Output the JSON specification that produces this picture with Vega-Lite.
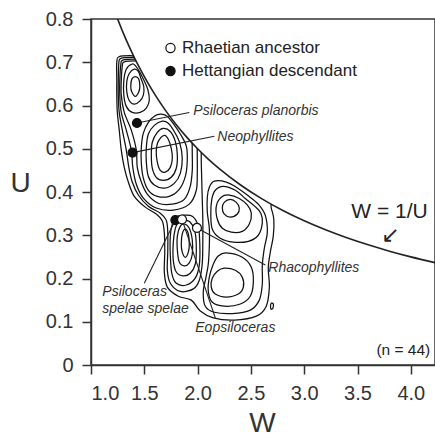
{
"$schema":"https://vega.github.io/schema/vega-lite/v6.json",
"width":344,"height":346,
"autosize":{"type":"none"},
"padding":{"left":91,"top":19,"right":0,"bottom":71},
"background":"white",
"config":{
 "view":{"stroke":"#333","strokeWidth":1.5},
 "font":"Liberation Sans",
 "axis":{"domainColor":"#333","domainWidth":1.5,"tickColor":"#333","tickWidth":1.5,"tickSize":9,"labelFont":"Liberation Sans","labelFontSize":20,"labelColor":"#333","labelPadding":9,"titleFont":"Liberation Sans","titleFontSize":28,"titleFontWeight":"normal","titleColor":"#333","grid":false}
},
"datasets":{
 "curve":[
  {"W":1.25,"U":0.8},{"W":1.3,"U":0.7692},{"W":1.35,"U":0.7407},{"W":1.4,"U":0.7143},{"W":1.45,"U":0.6897},{"W":1.5,"U":0.6667},{"W":1.6,"U":0.625},{"W":1.7,"U":0.5882},{"W":1.8,"U":0.5556},{"W":1.9,"U":0.5263},{"W":2.0,"U":0.5},{"W":2.1,"U":0.4762},{"W":2.2,"U":0.4545},{"W":2.4,"U":0.4167},{"W":2.6,"U":0.3846},{"W":2.8,"U":0.3571},{"W":3.0,"U":0.3333},{"W":3.2,"U":0.3125},{"W":3.4,"U":0.2941},{"W":3.6,"U":0.2778},{"W":3.8,"U":0.2632},{"W":4.0,"U":0.25},{"W":4.227,"U":0.2366}
 ],
 "closed":[
  {"c":"T1","o":0,"W":1.416,"U":0.667},{"c":"T1","o":1,"W":1.448,"U":0.661},{"c":"T1","o":2,"W":1.458,"U":0.644},{"c":"T1","o":3,"W":1.448,"U":0.631},{"c":"T1","o":4,"W":1.416,"U":0.621},{"c":"T1","o":5,"W":1.383,"U":0.631},{"c":"T1","o":6,"W":1.373,"U":0.644},{"c":"T1","o":7,"W":1.383,"U":0.661},
  {"c":"T2","o":0,"W":1.406,"U":0.684},{"c":"T2","o":1,"W":1.444,"U":0.679},{"c":"T2","o":2,"W":1.468,"U":0.663},{"c":"T2","o":3,"W":1.495,"U":0.644},{"c":"T2","o":4,"W":1.491,"U":0.624},{"c":"T2","o":5,"W":1.458,"U":0.610},{"c":"T2","o":6,"W":1.406,"U":0.603},{"c":"T2","o":7,"W":1.359,"U":0.611},{"c":"T2","o":8,"W":1.336,"U":0.631},{"c":"T2","o":9,"W":1.336,"U":0.656},{"c":"T2","o":10,"W":1.359,"U":0.674},
  {"c":"T3","o":0,"W":1.387,"U":0.696},{"c":"T3","o":1,"W":1.420,"U":0.691},{"c":"T3","o":2,"W":1.458,"U":0.677},{"c":"T3","o":3,"W":1.495,"U":0.659},{"c":"T3","o":4,"W":1.533,"U":0.637},{"c":"T3","o":5,"W":1.547,"U":0.612},{"c":"T3","o":6,"W":1.519,"U":0.594},{"c":"T3","o":7,"W":1.462,"U":0.584},{"c":"T3","o":8,"W":1.387,"U":0.584},{"c":"T3","o":9,"W":1.331,"U":0.598},{"c":"T3","o":10,"W":1.308,"U":0.624},{"c":"T3","o":11,"W":1.308,"U":0.658},{"c":"T3","o":12,"W":1.331,"U":0.684},
  {"c":"M1","o":0,"W":1.688,"U":0.531},{"c":"M1","o":1,"W":1.725,"U":0.522},{"c":"M1","o":2,"W":1.753,"U":0.501},{"c":"M1","o":3,"W":1.763,"U":0.478},{"c":"M1","o":4,"W":1.744,"U":0.457},{"c":"M1","o":5,"W":1.697,"U":0.446},{"c":"M1","o":6,"W":1.650,"U":0.450},{"c":"M1","o":7,"W":1.622,"U":0.469},{"c":"M1","o":8,"W":1.612,"U":0.494},{"c":"M1","o":9,"W":1.631,"U":0.517},
  {"c":"M2","o":0,"W":1.678,"U":0.547},{"c":"M2","o":1,"W":1.744,"U":0.540},{"c":"M2","o":2,"W":1.791,"U":0.517},{"c":"M2","o":3,"W":1.810,"U":0.485},{"c":"M2","o":4,"W":1.800,"U":0.455},{"c":"M2","o":5,"W":1.753,"U":0.434},{"c":"M2","o":6,"W":1.678,"U":0.427},{"c":"M2","o":7,"W":1.612,"U":0.434},{"c":"M2","o":8,"W":1.575,"U":0.455},{"c":"M2","o":9,"W":1.566,"U":0.485},{"c":"M2","o":10,"W":1.575,"U":0.515},{"c":"M2","o":11,"W":1.622,"U":0.538},
  {"c":"M3","o":0,"W":1.669,"U":0.564},{"c":"M3","o":1,"W":1.725,"U":0.559},{"c":"M3","o":2,"W":1.781,"U":0.540},{"c":"M3","o":3,"W":1.833,"U":0.513},{"c":"M3","o":4,"W":1.856,"U":0.478},{"c":"M3","o":5,"W":1.838,"U":0.443},{"c":"M3","o":6,"W":1.781,"U":0.420},{"c":"M3","o":7,"W":1.688,"U":0.409},{"c":"M3","o":8,"W":1.594,"U":0.416},{"c":"M3","o":9,"W":1.538,"U":0.436},{"c":"M3","o":10,"W":1.519,"U":0.469},{"c":"M3","o":11,"W":1.519,"U":0.503},{"c":"M3","o":12,"W":1.538,"U":0.534},{"c":"M3","o":13,"W":1.594,"U":0.554},
  {"c":"M4","o":0,"W":1.650,"U":0.580},{"c":"M4","o":1,"W":1.711,"U":0.576},{"c":"M4","o":2,"W":1.772,"U":0.558},{"c":"M4","o":3,"W":1.838,"U":0.534},{"c":"M4","o":4,"W":1.894,"U":0.506},{"c":"M4","o":5,"W":1.903,"U":0.473},{"c":"M4","o":6,"W":1.885,"U":0.436},{"c":"M4","o":7,"W":1.828,"U":0.406},{"c":"M4","o":8,"W":1.734,"U":0.390},{"c":"M4","o":9,"W":1.622,"U":0.390},{"c":"M4","o":10,"W":1.538,"U":0.404},{"c":"M4","o":11,"W":1.491,"U":0.432},{"c":"M4","o":12,"W":1.472,"U":0.467},{"c":"M4","o":13,"W":1.472,"U":0.503},{"c":"M4","o":14,"W":1.491,"U":0.536},{"c":"M4","o":15,"W":1.538,"U":0.561},{"c":"M4","o":16,"W":1.594,"U":0.575},
  {"c":"L1","o":0,"W":1.885,"U":0.314},{"c":"L1","o":1,"W":1.913,"U":0.303},{"c":"L1","o":2,"W":1.922,"U":0.279},{"c":"L1","o":3,"W":1.913,"U":0.261},{"c":"L1","o":4,"W":1.885,"U":0.249},{"c":"L1","o":5,"W":1.856,"U":0.261},{"c":"L1","o":6,"W":1.847,"U":0.279},{"c":"L1","o":7,"W":1.856,"U":0.303},
  {"c":"L2","o":0,"W":1.875,"U":0.326},{"c":"L2","o":1,"W":1.922,"U":0.316},{"c":"L2","o":2,"W":1.950,"U":0.289},{"c":"L2","o":3,"W":1.950,"U":0.256},{"c":"L2","o":4,"W":1.922,"U":0.236},{"c":"L2","o":5,"W":1.875,"U":0.229},{"c":"L2","o":6,"W":1.828,"U":0.238},{"c":"L2","o":7,"W":1.810,"U":0.266},{"c":"L2","o":8,"W":1.810,"U":0.298},{"c":"L2","o":9,"W":1.838,"U":0.321},
  {"c":"L3","o":0,"W":1.866,"U":0.335},{"c":"L3","o":1,"W":1.931,"U":0.330},{"c":"L3","o":2,"W":1.978,"U":0.305},{"c":"L3","o":3,"W":1.988,"U":0.266},{"c":"L3","o":4,"W":1.978,"U":0.233},{"c":"L3","o":5,"W":1.931,"U":0.212},{"c":"L3","o":6,"W":1.866,"U":0.206},{"c":"L3","o":7,"W":1.800,"U":0.215},{"c":"L3","o":8,"W":1.772,"U":0.242},{"c":"L3","o":9,"W":1.772,"U":0.284},{"c":"L3","o":10,"W":1.791,"U":0.316},{"c":"L3","o":11,"W":1.819,"U":0.330},
  {"c":"L4","o":0,"W":1.856,"U":0.346},{"c":"L4","o":1,"W":1.950,"U":0.344},{"c":"L4","o":2,"W":2.006,"U":0.321},{"c":"L4","o":3,"W":2.021,"U":0.277},{"c":"L4","o":4,"W":2.016,"U":0.231},{"c":"L4","o":5,"W":1.978,"U":0.201},{"c":"L4","o":6,"W":1.894,"U":0.185},{"c":"L4","o":7,"W":1.800,"U":0.189},{"c":"L4","o":8,"W":1.758,"U":0.212},{"c":"L4","o":9,"W":1.744,"U":0.254},{"c":"L4","o":10,"W":1.744,"U":0.298},{"c":"L4","o":11,"W":1.763,"U":0.326},{"c":"L4","o":12,"W":1.800,"U":0.342},
  {"c":"R1","o":0,"W":2.307,"U":0.383},{"c":"R1","o":1,"W":2.363,"U":0.376},{"c":"R1","o":2,"W":2.391,"U":0.363},{"c":"R1","o":3,"W":2.373,"U":0.349},{"c":"R1","o":4,"W":2.307,"U":0.342},{"c":"R1","o":5,"W":2.250,"U":0.349},{"c":"R1","o":6,"W":2.232,"U":0.363},{"c":"R1","o":7,"W":2.250,"U":0.376},
  {"c":"R2","o":0,"W":2.297,"U":0.393},{"c":"R2","o":1,"W":2.391,"U":0.385},{"c":"R2","o":2,"W":2.466,"U":0.370},{"c":"R2","o":3,"W":2.504,"U":0.351},{"c":"R2","o":4,"W":2.485,"U":0.326},{"c":"R2","o":5,"W":2.419,"U":0.309},{"c":"R2","o":6,"W":2.316,"U":0.307},{"c":"R2","o":7,"W":2.232,"U":0.316},{"c":"R2","o":8,"W":2.185,"U":0.337},{"c":"R2","o":9,"W":2.175,"U":0.367},{"c":"R2","o":10,"W":2.222,"U":0.388},
  {"c":"R3","o":0,"W":2.241,"U":0.413},{"c":"R3","o":1,"W":2.354,"U":0.404},{"c":"R3","o":2,"W":2.447,"U":0.385},{"c":"R3","o":3,"W":2.532,"U":0.368},{"c":"R3","o":4,"W":2.593,"U":0.351},{"c":"R3","o":5,"W":2.607,"U":0.328},{"c":"R3","o":6,"W":2.569,"U":0.300},{"c":"R3","o":7,"W":2.476,"U":0.286},{"c":"R3","o":8,"W":2.335,"U":0.284},{"c":"R3","o":9,"W":2.213,"U":0.293},{"c":"R3","o":10,"W":2.138,"U":0.314},{"c":"R3","o":11,"W":2.124,"U":0.349},{"c":"R3","o":12,"W":2.133,"U":0.383},{"c":"R3","o":13,"W":2.166,"U":0.404},
  {"c":"LR1","o":0,"W":2.250,"U":0.224},{"c":"LR1","o":1,"W":2.354,"U":0.219},{"c":"LR1","o":2,"W":2.419,"U":0.203},{"c":"LR1","o":3,"W":2.429,"U":0.180},{"c":"LR1","o":4,"W":2.382,"U":0.164},{"c":"LR1","o":5,"W":2.269,"U":0.157},{"c":"LR1","o":6,"W":2.166,"U":0.164},{"c":"LR1","o":7,"W":2.128,"U":0.180},{"c":"LR1","o":8,"W":2.138,"U":0.201},{"c":"LR1","o":9,"W":2.185,"U":0.217},
  {"c":"LR2","o":0,"W":2.269,"U":0.259},{"c":"LR2","o":1,"W":2.419,"U":0.249},{"c":"LR2","o":2,"W":2.504,"U":0.226},{"c":"LR2","o":3,"W":2.523,"U":0.192},{"c":"LR2","o":4,"W":2.494,"U":0.159},{"c":"LR2","o":5,"W":2.401,"U":0.141},{"c":"LR2","o":6,"W":2.250,"U":0.136},{"c":"LR2","o":7,"W":2.138,"U":0.145},{"c":"LR2","o":8,"W":2.100,"U":0.171},{"c":"LR2","o":9,"W":2.110,"U":0.203},{"c":"LR2","o":10,"W":2.147,"U":0.233},{"c":"LR2","o":11,"W":2.194,"U":0.252},
  {"c":"Q1","o":0,"W":2.157,"U":0.425},{"c":"Q1","o":1,"W":2.269,"U":0.423},{"c":"Q1","o":2,"W":2.363,"U":0.411},{"c":"Q1","o":3,"W":2.466,"U":0.393},{"c":"Q1","o":4,"W":2.569,"U":0.372},{"c":"Q1","o":5,"W":2.635,"U":0.346},{"c":"Q1","o":6,"W":2.654,"U":0.307},{"c":"Q1","o":7,"W":2.626,"U":0.270},{"c":"Q1","o":8,"W":2.607,"U":0.231},{"c":"Q1","o":9,"W":2.607,"U":0.187},{"c":"Q1","o":10,"W":2.579,"U":0.150},{"c":"Q1","o":11,"W":2.494,"U":0.127},{"c":"Q1","o":12,"W":2.326,"U":0.119},{"c":"Q1","o":13,"W":2.157,"U":0.122},{"c":"Q1","o":14,"W":2.072,"U":0.136},{"c":"Q1","o":15,"W":2.053,"U":0.169},{"c":"Q1","o":16,"W":2.077,"U":0.201},{"c":"Q1","o":17,"W":2.100,"U":0.233},{"c":"Q1","o":18,"W":2.110,"U":0.275},{"c":"Q1","o":19,"W":2.110,"U":0.316},{"c":"Q1","o":20,"W":2.091,"U":0.353},{"c":"Q1","o":21,"W":2.091,"U":0.388},{"c":"Q1","o":22,"W":2.110,"U":0.411},
  {"c":"r","o":0,"W":2.691,"U":0.143},{"c":"r","o":1,"W":2.710,"U":0.141},{"c":"r","o":2,"W":2.707,"U":0.132},{"c":"r","o":3,"W":2.691,"U":0.129},{"c":"r","o":4,"W":2.684,"U":0.136}
 ],
 "open":[
  {"c":"P1","o":0,"W":1.421,"U":0.703},{"c":"P1","o":1,"W":1.312,"U":0.701},{"c":"P1","o":2,"W":1.294,"U":0.692},{"c":"P1","o":3,"W":1.284,"U":0.658},{"c":"P1","o":4,"W":1.284,"U":0.624},{"c":"P1","o":5,"W":1.312,"U":0.584},{"c":"P1","o":6,"W":1.378,"U":0.543},{"c":"P1","o":7,"W":1.425,"U":0.497},{"c":"P1","o":8,"W":1.434,"U":0.457},{"c":"P1","o":9,"W":1.472,"U":0.423},{"c":"P1","o":10,"W":1.528,"U":0.395},{"c":"P1","o":11,"W":1.631,"U":0.374},{"c":"P1","o":12,"W":1.763,"U":0.372},{"c":"P1","o":13,"W":1.875,"U":0.383},{"c":"P1","o":14,"W":1.931,"U":0.413},{"c":"P1","o":15,"W":1.950,"U":0.450},{"c":"P1","o":16,"W":1.950,"U":0.485},{"c":"P1","o":17,"W":1.949,"U":0.513},
  {"c":"P2","o":0,"W":1.413,"U":0.707},{"c":"P2","o":1,"W":1.298,"U":0.705},{"c":"P2","o":2,"W":1.280,"U":0.695},{"c":"P2","o":3,"W":1.270,"U":0.658},{"c":"P2","o":4,"W":1.270,"U":0.624},{"c":"P2","o":5,"W":1.284,"U":0.584},{"c":"P2","o":6,"W":1.331,"U":0.543},{"c":"P2","o":7,"W":1.378,"U":0.497},{"c":"P2","o":8,"W":1.392,"U":0.457},{"c":"P2","o":9,"W":1.425,"U":0.418},{"c":"P2","o":10,"W":1.491,"U":0.386},{"c":"P2","o":11,"W":1.612,"U":0.363},{"c":"P2","o":12,"W":1.772,"U":0.358},{"c":"P2","o":13,"W":1.922,"U":0.372},{"c":"P2","o":14,"W":1.988,"U":0.404},{"c":"P2","o":15,"W":1.997,"U":0.446},{"c":"P2","o":16,"W":1.997,"U":0.478},{"c":"P2","o":17,"W":1.996,"U":0.5008},
  {"c":"B1","o":0,"W":1.405,"U":0.711},{"c":"B1","o":1,"W":1.280,"U":0.709},{"c":"B1","o":2,"W":1.261,"U":0.697},{"c":"B1","o":3,"W":1.256,"U":0.658},{"c":"B1","o":4,"W":1.256,"U":0.624},{"c":"B1","o":5,"W":1.265,"U":0.584},{"c":"B1","o":6,"W":1.294,"U":0.543},{"c":"B1","o":7,"W":1.331,"U":0.497},{"c":"B1","o":8,"W":1.355,"U":0.457},{"c":"B1","o":9,"W":1.387,"U":0.423},{"c":"B1","o":10,"W":1.444,"U":0.393},{"c":"B1","o":11,"W":1.538,"U":0.367},{"c":"B1","o":12,"W":1.650,"U":0.351},{"c":"B1","o":13,"W":1.706,"U":0.335},{"c":"B1","o":14,"W":1.720,"U":0.307},{"c":"B1","o":15,"W":1.720,"U":0.261},{"c":"B1","o":16,"W":1.716,"U":0.219},{"c":"B1","o":17,"W":1.744,"U":0.189},{"c":"B1","o":18,"W":1.838,"U":0.170},{"c":"B1","o":19,"W":1.960,"U":0.176},{"c":"B1","o":20,"W":2.016,"U":0.196},{"c":"B1","o":21,"W":2.044,"U":0.236},{"c":"B1","o":22,"W":2.049,"U":0.289},{"c":"B1","o":23,"W":2.049,"U":0.335},{"c":"B1","o":24,"W":2.044,"U":0.381},{"c":"B1","o":25,"W":2.039,"U":0.427},{"c":"B1","o":26,"W":2.035,"U":0.462},{"c":"B1","o":27,"W":2.034,"U":0.4914},
  {"c":"B2","o":0,"W":1.397,"U":0.715},{"c":"B2","o":1,"W":1.265,"U":0.713},{"c":"B2","o":2,"W":1.242,"U":0.700},{"c":"B2","o":3,"W":1.242,"U":0.658},{"c":"B2","o":4,"W":1.242,"U":0.624},{"c":"B2","o":5,"W":1.247,"U":0.584},{"c":"B2","o":6,"W":1.265,"U":0.543},{"c":"B2","o":7,"W":1.284,"U":0.497},{"c":"B2","o":8,"W":1.312,"U":0.457},{"c":"B2","o":9,"W":1.350,"U":0.423},{"c":"B2","o":10,"W":1.406,"U":0.390},{"c":"B2","o":11,"W":1.509,"U":0.365},{"c":"B2","o":12,"W":1.612,"U":0.349},{"c":"B2","o":13,"W":1.669,"U":0.333},{"c":"B2","o":14,"W":1.688,"U":0.305},{"c":"B2","o":15,"W":1.692,"U":0.261},{"c":"B2","o":16,"W":1.688,"U":0.215},{"c":"B2","o":17,"W":1.716,"U":0.180},{"c":"B2","o":18,"W":1.819,"U":0.159},{"c":"B2","o":19,"W":1.941,"U":0.150},{"c":"B2","o":20,"W":2.025,"U":0.125},{"c":"B2","o":21,"W":2.147,"U":0.109},{"c":"B2","o":22,"W":2.345,"U":0.104},{"c":"B2","o":23,"W":2.551,"U":0.113},{"c":"B2","o":24,"W":2.644,"U":0.136},{"c":"B2","o":25,"W":2.673,"U":0.180},{"c":"B2","o":26,"W":2.663,"U":0.224},{"c":"B2","o":27,"W":2.682,"U":0.261},{"c":"B2","o":28,"W":2.710,"U":0.298},{"c":"B2","o":29,"W":2.715,"U":0.337},{"c":"B2","o":30,"W":2.691,"U":0.363},{"c":"B2","o":31,"W":2.690,"U":0.3716}
 ],
 "leaders":[
  {"name":"Psiloceras planorbis","W":1.431,"U":0.5595,"W2":1.922,"U2":0.584},
  {"name":"Neophyllites","W":1.390,"U":0.491,"W2":2.157,"U2":0.529},
  {"name":"Psiloceras spelae spelae","W":1.791,"U":0.335,"W2":1.500,"U2":0.189},
  {"name":"Eopsiloceras","W":1.854,"U":0.3365,"W2":2.166,"U2":0.109},
  {"name":"Rhacophyllites","W":1.994,"U":0.317,"W2":2.635,"U2":0.231}
 ],
 "pts":[
  {"type":"Hettangian descendant","W":1.431,"U":0.5595},
  {"type":"Hettangian descendant","W":1.390,"U":0.491},
  {"type":"Hettangian descendant","W":1.791,"U":0.335},
  {"type":"Rhaetian ancestor","W":1.854,"U":0.3365},
  {"type":"Rhaetian ancestor","W":1.994,"U":0.317}
 ],
 "labels":[
  {"t":"Psiloceras planorbis","W":1.960,"U":0.587},
  {"t":"Neophyllites","W":2.185,"U":0.527},
  {"t":"Rhacophyllites","W":2.663,"U":0.224},
  {"t":"Eopsiloceras","W":1.978,"U":0.0855},
  {"t":"Psiloceras","W":1.106,"U":0.169},
  {"t":"spelae spelae","W":1.106,"U":0.129}
 ]
},
"layer":[
 {"data":{"name":"curve"},"mark":{"type":"line","color":"#222","strokeWidth":1.6,"interpolate":"monotone","clip":true},
  "encoding":{
   "x":{"field":"W","type":"quantitative","scale":{"domain":[1,4.227],"nice":false,"zero":false},"axis":{"values":[1,1.5,2,2.5,3,3.5,4],"format":".1f","title":"W","titleX":171,"titleY":58,"titleBaseline":"middle","titleAlign":"center"}},
   "y":{"field":"U","type":"quantitative","scale":{"domain":[0,0.8],"nice":false},"axis":{"values":[0,0.1,0.2,0.3,0.4,0.5,0.6,0.7,0.8],"labelExpr":"datum.value == 0 ? '0' : format(datum.value, '.1f')","title":"U","titleAngle":0,"titleX":-71,"titleY":164,"titleBaseline":"middle","titleAlign":"center"}}
  }},
 {"data":{"name":"closed"},"mark":{"type":"line","interpolate":"cardinal-closed","color":"#111","strokeWidth":1.25,"clip":true},
  "encoding":{"x":{"field":"W","type":"quantitative"},"y":{"field":"U","type":"quantitative"},"detail":{"field":"c","type":"nominal"},"order":{"field":"o","type":"quantitative"}}},
 {"data":{"name":"open"},"mark":{"type":"line","interpolate":"cardinal","color":"#111","strokeWidth":1.25,"clip":true},
  "encoding":{"x":{"field":"W","type":"quantitative"},"y":{"field":"U","type":"quantitative"},"detail":{"field":"c","type":"nominal"},"order":{"field":"o","type":"quantitative"}}},
 {"data":{"name":"leaders"},"mark":{"type":"rule","color":"#222","strokeWidth":1.1},
  "encoding":{"x":{"field":"W","type":"quantitative"},"y":{"field":"U","type":"quantitative"},"x2":{"field":"W2"},"y2":{"field":"U2"}}},
 {"data":{"name":"pts"},"mark":{"type":"point","shape":"circle","filled":true,"stroke":"#111","strokeWidth":1.2,"size":80,"opacity":1},
  "encoding":{"x":{"field":"W","type":"quantitative"},"y":{"field":"U","type":"quantitative"},
   "fill":{"field":"type","type":"nominal","scale":{"domain":["Rhaetian ancestor","Hettangian descendant"],"range":["white","#111"]},
    "legend":{"orient":"none","legendX":71,"legendY":20.5,"title":null,"direction":"vertical","labelFontSize":17,"labelFont":"Liberation Sans","labelColor":"#222","labelLimit":400,"symbolSize":85,"symbolType":"circle","symbolStrokeColor":"#111","symbolStrokeWidth":1.2,"rowPadding":5,"labelOffset":3,"padding":0}}}},
 {"data":{"name":"labels"},"mark":{"type":"text","align":"left","baseline":"middle","fontStyle":"italic","fontSize":14,"color":"#333","font":"Liberation Sans"},
  "encoding":{"x":{"field":"W","type":"quantitative"},"y":{"field":"U","type":"quantitative"},"text":{"field":"t"}}},
 {"data":{"values":[{"t":"W = 1/U","W":3.80,"U":0.354}]},"mark":{"type":"text","align":"center","baseline":"middle","fontSize":21,"color":"#222","font":"Liberation Sans"},
  "encoding":{"x":{"field":"W","type":"quantitative"},"y":{"field":"U","type":"quantitative"},"text":{"field":"t"}}},
 {"data":{"values":[{"t":"↙","W":3.809,"U":0.300}]},"mark":{"type":"text","align":"center","baseline":"middle","fontSize":22,"color":"#222","font":"DejaVu Sans"},
  "encoding":{"x":{"field":"W","type":"quantitative"},"y":{"field":"U","type":"quantitative"},"text":{"field":"t"}}},
 {"data":{"values":[{"t":"(n = 44)","W":3.93,"U":0.0346}]},"mark":{"type":"text","align":"center","baseline":"middle","fontSize":15.5,"color":"#222","font":"Liberation Sans"},
  "encoding":{"x":{"field":"W","type":"quantitative"},"y":{"field":"U","type":"quantitative"},"text":{"field":"t"}}}
]
}
